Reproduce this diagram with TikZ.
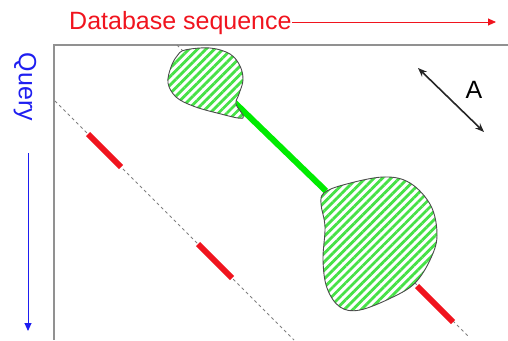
\documentclass[tikz,border=0pt]{standalone}
\usepackage{fontspec}
\setmainfont{Liberation Sans}
\usetikzlibrary{patterns.meta,arrows.meta}
\definecolor{framegray}{RGB}{145,145,145}
\definecolor{hatchgreen}{RGB}{70,225,70}
\definecolor{linegreen}{RGB}{0,235,0}
\definecolor{qblue}{RGB}{30,30,240}
\definecolor{dbred}{RGB}{240,20,30}
\tikzset{
  framestyle/.style={draw=framegray,line width=2.3pt},
  diagline/.style={draw=gray,line width=0.8pt,dash pattern=on 3pt off 3pt},
  redseg/.style={draw=dbred,line width=6pt},
  greenseg/.style={draw=linegreen,line width=6pt},
  blob/.style={draw=black!70,line width=0.9pt,preaction={fill=white},
    pattern={Lines[angle=45,distance=6pt,line width=2.8pt]},pattern color=hatchgreen},
  lbl/.style={font=\fontsize{25}{28}\selectfont,inner sep=0pt}
}
\begin{document}
\begin{tikzpicture}[x=1pt,y=-1pt]
\useasboundingbox (0,0) rectangle (508,340);
% frame
\coordinate (tl) at (54,45);
\coordinate (tr) at (508,45);
\coordinate (bl) at (54,340);
\draw[framestyle] (tr) -- (tl) -- (bl);
% diagonals
\coordinate (d1s) at (55,101);
\coordinate (d1e) at (294,340);
\coordinate (d2s) at (177,45);
\coordinate (d2e) at (468,336);
\draw[diagline] (d1s) -- (d1e);
\draw[diagline] (d2s) -- (d2e);
% red segments
\coordinate (r1a) at (88,134); \coordinate (r1b) at (121,167);
\coordinate (r2a) at (198,244); \coordinate (r2b) at (232,278);
\coordinate (r3a) at (417,286); \coordinate (r3b) at (453,322);
\draw[redseg] (r1a) -- (r1b);
\draw[redseg] (r2a) -- (r2b);
\draw[redseg] (r3a) -- (r3b);
% green link
\coordinate (ga) at (232,100);
\coordinate (gb) at (326,191);
\draw[greenseg] (ga) -- (gb);
% small blob
\draw[blob] plot[smooth cycle,tension=0.6] coordinates {
 (185,50) (210,48) (230,54) (240,66) (243,80) (239,94) (236,104) (243,118)
 (217,113) (193,106) (176,97) (168,83) (171,67) (177,56)};
% big blob
\draw[blob] plot[smooth cycle,tension=0.6] coordinates {
 (324,193) (343,185) (383,177) (410,183) (431,206) (437,236) (430,260)
 (415,283) (393,297) (360,310) (340,307) (327,288) (323,260) (325,227) (321,204)};
% database sequence label and arrow
\node[lbl,text=dbred,anchor=west] (db) at (69,23) {Database sequence};
\coordinate (dbend) at (496,22);
\draw[dbred,line width=0.9pt,-{Triangle[length=8pt,width=7pt]}] (db.east |- dbend) -- (dbend);
% query label and arrow
\node[lbl,text=qblue,rotate=-90] (q) at (25,87) {Query};
\coordinate (qs) at (28,153);
\coordinate (qe) at (28,331);
\draw[qblue,line width=0.9pt,-{Triangle[length=8pt,width=7pt]}] (qs) -- (qe);
% A arrow
\coordinate (aa) at (418,68);
\coordinate (ab) at (484,132);
\draw[black!85,line width=1.6pt,{Stealth[length=9pt,width=7pt]}-{Stealth[length=9pt,width=7pt]}] (aa) -- (ab);
\node[lbl] (A) at (474,90) {A};
\end{tikzpicture}
\end{document}
